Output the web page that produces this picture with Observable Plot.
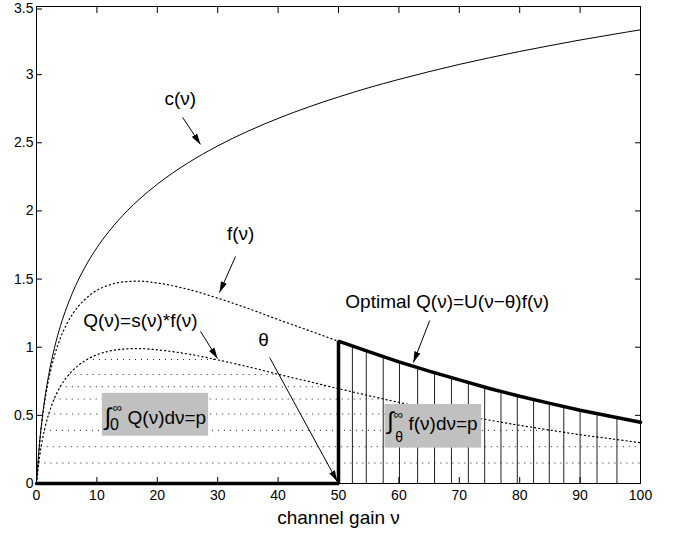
<!DOCTYPE html>
<html><head><meta charset="utf-8">
<script src="https://cdn.jsdelivr.net/npm/d3@7"></script>
<script src="https://cdn.jsdelivr.net/npm/@observablehq/plot@0.6"></script>
<style>html,body{margin:0;padding:0;background:#fff;overflow:hidden} svg{display:block}</style>
</head><body><div id="chart"></div>
<script>
// channel gain samples
const nu    = [0,0.5,1,1.5,2,3,4,5,6,8,10,12,15,17,20,25,30,35,40,45,50,55,60,65,70,75,80,85,90,95,100];
// c(ν) solid curve
const cVals = [0,0.292,0.5,0.661,0.792,1.0,1.161,1.292,1.404,1.585,1.730,1.850,2.0,2.085,2.196,2.350,2.477,2.585,2.679,2.762,2.836,2.904,2.965,3.022,3.075,3.124,3.170,3.213,3.254,3.292,3.329];
// f(ν) dotted curve
const fVals = [0,0.289,0.490,0.641,0.761,0.942,1.072,1.169,1.245,1.350,1.417,1.456,1.482,1.485,1.471,1.426,1.360,1.285,1.203,1.124,1.044,0.967,0.892,0.825,0.760,0.697,0.640,0.588,0.537,0.494,0.449];
// Q(ν)=s(ν)*f(ν) dotted curve
const qVals = [0,0.193,0.327,0.427,0.507,0.628,0.715,0.779,0.830,0.900,0.945,0.971,0.988,0.990,0.981,0.951,0.907,0.857,0.802,0.749,0.696,0.645,0.595,0.550,0.507,0.465,0.427,0.392,0.358,0.329,0.299];
// horizontal dotted level lines under Q(ν)
const levels = [0.15,0.27,0.39,0.51,0.62,0.71,0.80,0.91];
// vertical hatch lines under optimal Q(ν)
const stripX = [52.3,54.6,57.4,60.1,63.1,65.9,68.7,71.5,74.2,76.9,79.6,82.3,84.9,87.3,90.0,92.8,96.1];
const theta = 50;
const xTicks = [0,10,20,30,40,50,60,70,80,90,100];
const yTicks = [0,0.5,1,1.5,2,2.5,3,3.5];

const labelText = ["c(ν)","f(ν)","Q(ν)=s(ν)*f(ν)","θ","Optimal Q(ν)=U(ν−θ)f(ν)"];
const labelX    = [23.8, 33.8, 17.2, 37.6, 68.0];
const labelY    = [2.82, 1.83, 1.195, 1.05, 1.33];

const arrowX1 = [24.2, 32.95, 27.15, 38.6, 65.1];
const arrowY1 = [2.686, 1.666, 1.116, 0.924, 1.196];
const arrowX2 = [27.15, 30.3, 29.97, 49.8, 62.4];
const arrowY2 = [2.488, 1.401, 0.917, 0.015, 0.888];

const boxX1 = [10.9, 57.7], boxX2 = [28.5, 73.7];
const boxY1 = [0.347, 0.26], boxY2 = [0.662, 0.58];

const symText = ["∫","∞","0","∫","∞","θ"];
const symX    = [11.84,13.41,12.91,58.61,59.93,60.02];
const symY    = [0.484,0.558,0.429,0.455,0.506,0.338];
const symSize = [24,13,16,24,13,14];
const intText = ["Q(ν)dν=p","f(ν)dν=p"];
const intX    = [15.07, 61.59];
const intY    = [0.484, 0.440];

// ---- derived tables ----
const rows = nu.map((v,i)=>({nu:v, c:cVals[i], f:fVals[i], q:qVals[i]}));
function interp(xs, ys, x){
  for(let i=1;i<xs.length;i++){ if(x<=xs[i]){ const t=(x-xs[i-1])/(xs[i]-xs[i-1]); return ys[i-1]+t*(ys[i]-ys[i-1]); } }
  return ys[ys.length-1];
}
const peak = qVals.indexOf(d3.max(qVals));
const levelSegs = levels.map(L=>{
  let x1 = nu[0], x2 = nu[nu.length-1];
  for(let i=1;i<=peak;i++){ if(qVals[i]>=L){ x1 = nu[i-1]+(L-qVals[i-1])/(qVals[i]-qVals[i-1])*(nu[i]-nu[i-1]); break; } }
  for(let j=peak;j<nu.length-1;j++){ if(qVals[j+1]<L){ x2 = nu[j]+(qVals[j]-L)/(qVals[j]-qVals[j+1])*(nu[j+1]-nu[j]); break; } }
  return {level:L, x1, x2};
});
const strips = stripX.map(x=>({nu:x, top: interp(nu,fVals,x)}));
const optimal = [{nu:0,y:0},{nu:theta,y:0},{nu:theta,y:interp(nu,fVals,theta)},
  ...rows.filter(r=>r.nu>theta).map(r=>({nu:r.nu,y:r.f}))];
const labels = labelText.map((t,i)=>({text:t,x:labelX[i],y:labelY[i]}));
const arrows = arrowX1.map((_,i)=>({x1:arrowX1[i],y1:arrowY1[i],x2:arrowX2[i],y2:arrowY2[i]}));
const boxes = boxX1.map((_,i)=>({x1:boxX1[i],x2:boxX2[i],y1:boxY1[i],y2:boxY2[i]}));
const syms = symText.map((t,i)=>({text:t,x:symX[i],y:symY[i],fs:symSize[i]}));
const ints = intText.map((t,i)=>({text:t,x:intX[i],y:intY[i]}));
const yTicksLow = yTicks.slice(0,-1), yTicksTop = yTicks.slice(-1);

function filledArrow(color, context){
  const doc = (context && context.document) || document;
  const m = doc.createElementNS("http://www.w3.org/2000/svg","marker");
  m.setAttribute("viewBox","-11 -4 11 8");
  m.setAttribute("markerWidth","11");
  m.setAttribute("markerHeight","8");
  m.setAttribute("orient","auto");
  m.setAttribute("markerUnits","userSpaceOnUse");
  m.setAttribute("fill", color);
  m.setAttribute("stroke","none");
  const p = doc.createElementNS("http://www.w3.org/2000/svg","path");
  p.setAttribute("d","M-11,-3.2L0,0L-11,3.2Z");
  m.appendChild(p);
  return m;
}

const plot = Plot.plot({
  width: 674, height: 539,
  marginLeft: 36, marginRight: 34, marginTop: 6, marginBottom: 56,
  style: {fontFamily: "'Liberation Sans', Arial, Helvetica, sans-serif", fontSize: "14px", color: "black", background: "white"},
  x: {domain: [0,100]},
  y: {domain: [0,3.5]},
  marks: [
    Plot.ruleY(levelSegs, {y:"level", x1:"x1", x2:"x2", stroke:"#222", strokeWidth:1, strokeDasharray:"1,5"}),
    Plot.ruleX(strips, {x:"nu", y1:0, y2:"top", stroke:"#222", strokeWidth:1}),
    Plot.line(rows, {x:"nu", y:"f", stroke:"black", strokeWidth:1.2, strokeDasharray:"1.2,3", curve:"monotone-x"}),
    Plot.line(rows, {x:"nu", y:"q", stroke:"black", strokeWidth:1.2, strokeDasharray:"1.2,3", curve:"monotone-x"}),
    Plot.line(rows, {x:"nu", y:"c", stroke:"black", strokeWidth:1, curve:"monotone-x"}),
    Plot.line(optimal, {x:"nu", y:"y", stroke:"black", strokeWidth:3.5, strokeLinejoin:"miter"}),
    Plot.rect(boxes, {x1:"x1", x2:"x2", y1:"y1", y2:"y2", fill:"#c0c0c0"}),
    Plot.link(arrows, {x1:"x1", y1:"y1", x2:"x2", y2:"y2", stroke:"black", strokeWidth:1, markerEnd: filledArrow}),
    Plot.text(labels, {x:"x", y:"y", text:"text", fontSize:19}),
    Plot.text(syms, {x:"x", y:"y", text:"text", fontSize:"fs"}),
    Plot.text(ints, {x:"x", y:"y", text:"text", fontSize:19, textAnchor:"start"}),
    Plot.axisX({ticks:xTicks, tickSize:-6, tickPadding:13, tickFormat:d=>String(d), label:null, fontSize:14}),
    Plot.axisX({anchor:"top", ticks:xTicks, tickSize:-6, tickFormat:()=>"", label:null}),
    Plot.axisY({ticks:yTicksLow, tickSize:-6, tickPadding:9, tickFormat:d=>String(d), label:null, fontSize:14}),
    Plot.axisY({ticks:yTicksTop, tickSize:-6, tickPadding:9, tickFormat:d=>String(d), label:null, fontSize:14, dy:2.5}),
    Plot.axisY({anchor:"right", ticks:yTicks, tickSize:-6, tickFormat:()=>"", label:null}),
    Plot.frame({stroke:"black"}),
    Plot.text(["channel gain ν"], {frameAnchor:"bottom", dy:40, text:d=>d, fontSize:19})
  ]
});
document.getElementById("chart").appendChild(plot);
</script>
</body></html>
